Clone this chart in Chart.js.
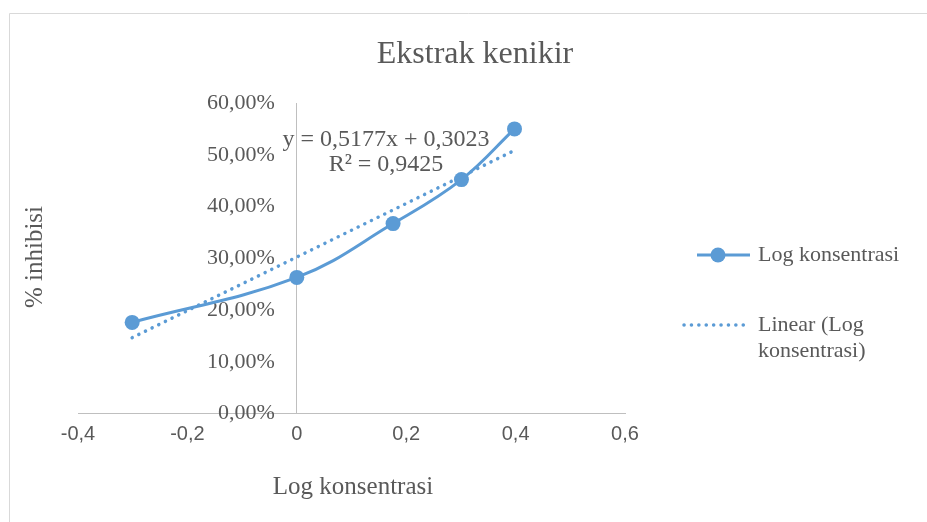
<html>

<head>
  <script src="https://cdn.jsdelivr.net/npm/chart.js"></script>
  <title>Ekstrak kenikir</title>
</head>

<body style="margin:0;background:#fff;">
  <div style="position:fixed;left:0;top:0;width:927px;height:522px;">
    <canvas id="myChart"></canvas>
  </div>

  <script>
    // data
    const logKonsentrasi = [-0.301, 0, 0.176, 0.301, 0.398];
    const inhibisi = [0.176, 0.263, 0.367, 0.452, 0.55];
    // trendline as printed on the chart
    const trendSlope = 0.5177;
    const trendIntercept = 0.3023;
    const trendR2 = 0.9425;
    const xTicks = [-0.4, -0.2, 0, 0.2, 0.4, 0.6];
    const yTicks = [0, 0.1, 0.2, 0.3, 0.4, 0.5, 0.6];
    const seriesLabels = ["Log konsentrasi", "Linear (Log konsentrasi)"];
    const chartTitle = "Ekstrak kenikir";
    const xTitle = "Log konsentrasi";
    const yTitle = "% inhibisi";

    const blue = "#5B9BD5";
    const textColor = "#595959";
    const axisColor = "#BFBFBF";
    const serif = "'Liberation Serif', 'Times New Roman', serif";

    function comma(v, digits) {
      return v.toFixed(digits).replace(".", ",");
    }

    const points = logKonsentrasi.map((x, i) => ({ x: x, y: inhibisi[i] }));
    const xFirst = logKonsentrasi[0];
    const xLast = logKonsentrasi[logKonsentrasi.length - 1];
    const trendPoints = [
      { x: xFirst, y: trendSlope * xFirst + trendIntercept },
      { x: xLast, y: trendSlope * xLast + trendIntercept },
    ];

    // wraps legend text to fit a width
    function wrapText(ctx, text, maxWidth) {
      const words = text.split(" ");
      const lines = [];
      let line = "";
      for (const w of words) {
        const test = line ? line + " " + w : w;
        if (ctx.measureText(test).width > maxWidth && line) {
          lines.push(line);
          line = w;
        } else {
          line = test;
        }
      }
      if (line) lines.push(line);
      return lines;
    }

    // border, titles, equation and legend like the Excel chart
    const decoration = {
      id: "excelDecoration",
      afterDraw: (chart) => {
        const { ctx } = chart;
        ctx.save();

        ctx.strokeStyle = "#D9D9D9";
        ctx.lineWidth = 1;
        ctx.beginPath();
        ctx.moveTo(9.5, 522);
        ctx.lineTo(9.5, 13.5);
        ctx.lineTo(927, 13.5);
        ctx.stroke();

        ctx.fillStyle = textColor;
        ctx.textAlign = "center";
        ctx.textBaseline = "middle";
        ctx.font = "32px " + serif;
        ctx.fillText(chartTitle, 475, 55);

        ctx.font = "25px " + serif;
        ctx.fillText(xTitle, 353, 487);
        ctx.save();
        ctx.translate(35, 257);
        ctx.rotate(-Math.PI / 2);
        ctx.fillText(yTitle, 0, 0);
        ctx.restore();

        ctx.font = "24px " + serif;
        ctx.fillText("y = " + comma(trendSlope, 4) + "x + " + comma(trendIntercept, 4), 386, 140);
        ctx.fillText("R² = " + comma(trendR2, 4), 386, 165);

        // legend
        ctx.strokeStyle = blue;
        ctx.lineWidth = 3;
        ctx.beginPath();
        ctx.moveTo(697, 255);
        ctx.lineTo(750, 255);
        ctx.stroke();
        ctx.fillStyle = blue;
        ctx.beginPath();
        ctx.arc(718, 255, 7.5, 0, Math.PI * 2);
        ctx.fill();

        ctx.lineWidth = 3.5;
        ctx.setLineDash([0.1, 7.3]);
        ctx.lineCap = "round";
        ctx.beginPath();
        ctx.moveTo(684, 325);
        ctx.lineTo(750, 325);
        ctx.stroke();
        ctx.setLineDash([]);

        ctx.fillStyle = textColor;
        ctx.textAlign = "left";
        ctx.font = "22px " + serif;
        ctx.fillText(seriesLabels[0], 758, 255);
        const lines = wrapText(ctx, seriesLabels[1], 165);
        lines.forEach((l, i) => ctx.fillText(l, 758, 325 + i * 26));

        ctx.restore();
      },
    };

    const ctx1 = document.getElementById("myChart").getContext("2d");
    const myChart = new Chart(ctx1, {
      type: "scatter",
      data: {
        datasets: [
          {
            label: seriesLabels[0],
            data: points,
            showLine: true,
            borderColor: blue,
            backgroundColor: blue,
            borderWidth: 3,
            pointRadius: 7.5,
            pointBorderWidth: 0,
            tension: 0.4,
            order: 1,
          },
          {
            label: seriesLabels[1],
            data: trendPoints,
            showLine: true,
            borderColor: blue,
            borderWidth: 3.5,
            borderDash: [0.1, 7.3],
            borderCapStyle: "round",
            pointRadius: 0,
            order: 0,
          },
        ],
      },
      options: {
        responsive: true,
        maintainAspectRatio: false,
        animation: false,
        layout: {
          padding: { left: 78, right: 302, top: 103, bottom: 58.5 },
        },
        scales: {
          x: {
            type: "linear",
            min: xTicks[0],
            max: xTicks[xTicks.length - 1],
            afterFit: (scale) => { scale.height = 50; },
            grid: { display: false, drawTicks: false },
            border: { display: true, color: axisColor, width: 1 },
            ticks: {
              stepSize: 0.2,
              padding: 9,
              color: textColor,
              font: { family: "'Liberation Sans', Arial, sans-serif", size: 20 },
              callback: (v) => {
                const r = Math.round(v * 10) / 10;
                return r === 0 ? "0" : comma(r, 1);
              },
            },
          },
          y: {
            position: { x: 0 },
            min: yTicks[0],
            max: yTicks[yTicks.length - 1],
            grid: { display: false, drawTicks: false },
            border: { display: true, color: axisColor, width: 1 },
            ticks: {
              stepSize: 0.1,
              color: textColor,
              font: { family: serif, size: 22 },
              // labels sit left of the axis crossing at x = 0, en spaces keep the gap
              callback: (v) => comma(Math.round(v * 1000) / 10, 2) + "%\u2002\u2002",
            },
          },
        },
        plugins: {
          legend: { display: false },
          tooltip: { enabled: false },
          title: { display: false },
        },
      },
      plugins: [decoration],
    });
  </script>
</body>

</html>
